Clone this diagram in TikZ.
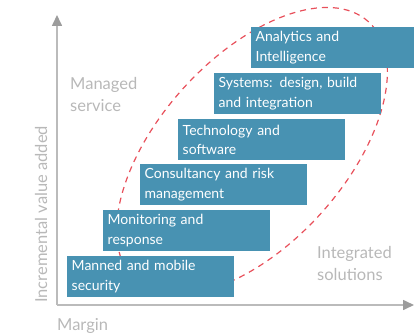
\documentclass[tikz,border=0pt]{standalone}
\usepackage{fontspec}
\newfontfamily\gillfont{Lato}
\usetikzlibrary{arrows.meta}
\definecolor{boxblue}{HTML}{4892B2}
\definecolor{labelgray}{HTML}{B8B8B8}
\definecolor{axisgray}{HTML}{BBBBBB}
\definecolor{tipgray}{HTML}{9C9C9C}
\definecolor{dashred}{HTML}{E8505B}
\begin{document}
\begin{tikzpicture}[x=1pt,y=-1pt,
  stepbox/.style={fill=boxblue, text=white, anchor=north west,
    minimum width=167pt, minimum height=41pt, text width=158pt,
    inner xsep=4.5pt, inner ysep=0pt, align=left,
    font=\gillfont\fontsize{14}{19.5}\selectfont},
  graylabel/.style={text=labelgray, inner sep=0pt, anchor=base west, align=left,
    font=\gillfont\fontsize{16.5}{22}\selectfont},
  axis/.style={draw=axisgray, line width=1.6pt,
    -{Triangle[length=11pt,width=10pt,color=tipgray]}},
  oval/.style={draw=dashred, line width=1.2pt, dash pattern=on 6pt off 5pt}]
\useasboundingbox (0,0) rectangle (414,336);
% dashed oval behind the boxes
\draw[oval, rotate around={48:(252,151)}] (252,151) ellipse [x radius=174pt, y radius=93pt];
% axes
\coordinate (origin) at (57,305);
\coordinate (ytip) at (57,15);
\coordinate (xtip) at (414,305);
\draw[axis] (origin) -- (ytip);
\draw[axis] (origin) -- (xtip);
% boxes
\node[stepbox] (b1) at (67,256) {Manned and mobile\\security};
\node[stepbox] (b2) at (103,210) {Monitoring and\\response};
\node[stepbox] (b3) at (140,164) {Consultancy and risk\\management};
\node[stepbox] (b4) at (178,119) {Technology and\\software};
\node[stepbox] (b5) at (214,73) {Systems: design, build\\and integration};
\node[stepbox] (b6) at (251,27) {Analytics and\\Intelligence};
% labels
\node[graylabel] (ms) at (70,112) {Managed\\service};
\node[graylabel] (is) at (317,280) {Integrated\\solutions};
\node[graylabel] (mg) at (57,330) {Margin};
\node[graylabel, rotate=90] (iv) at (47,303) {Incremental value added};
\end{tikzpicture}
\end{document}
